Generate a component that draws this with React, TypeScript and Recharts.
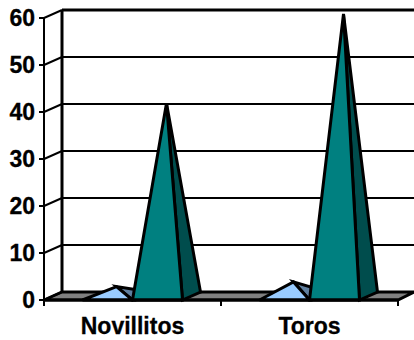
import React from 'react';
import { BarChart, Bar, XAxis, YAxis, CartesianGrid } from 'recharts';

const categories = ['Novillitos', 'Toros'];
const smallSeries = [2, 3];
const bigSeries = [41, 60];
const yTicks = [0, 10, 20, 30, 40, 50, 60];

const chartData = categories.map((name, i) => ({
  name,
  small: smallSeries[i],
  big: bigSeries[i]
}));

// how far the back of the 3D box sits from the front plane
const DEPTH_X = 18;
const DEPTH_Y = 8;

const labelStyle = { fontFamily: 'Liberation Sans', fontWeight: 700, fontSize: 23, fill: '#000', stroke: '#000', strokeWidth: 0.3 };

const Grid3D = (props: any) => {
  const { x1, x2, y1, y, height } = props;
  const back = y1 - DEPTH_Y;
  const isFloor = y1 === y + height;
  const isTop = y1 === y;
  // ticks on the category boundaries, the axis itself only ticks at the centres
  const boundaries = [0, 1, 2].map(i => x1 + (i * (x2 - x1)) / categories.length);
  return (
    <g>
      {isFloor && (
        <polygon
          points={`${x1},${y1} ${x2},${y1} ${x2 + DEPTH_X - 2},${back} ${x1 + DEPTH_X},${back}`}
          fill="#808080"
          stroke="#000"
          strokeWidth={3}
        />
      )}
      {isFloor && boundaries.map(bx => <line key={bx} x1={bx} y1={y1} x2={bx} y2={y1 + 6} stroke="#000" strokeWidth={2} />)}
      {isTop && <line x1={x1 + DEPTH_X} y1={back} x2={x1 + DEPTH_X} y2={y + height - DEPTH_Y} stroke="#000" strokeWidth={3} />}
      <line x1={x1} y1={y1} x2={x1 + DEPTH_X} y2={back} stroke="#000" strokeWidth={2} />
      {!isFloor && <line x1={x1 + DEPTH_X} y1={back} x2={x2 + DEPTH_X} y2={back} stroke="#000" strokeWidth={isTop ? 3 : 2} />}
    </g>
  );
};

const pyramid = (front: string, side: string) => (props: any) => {
  const { x, y, width, height } = props;
  const bottom = y + height;
  const right = x + width;
  const apexX = x + width / 2 + DEPTH_X / 2;
  const apexY = y - DEPTH_Y / 2;
  return (
    <g stroke="#000" strokeWidth={3} strokeLinejoin="miter">
      <polygon points={`${right},${bottom} ${right + DEPTH_X},${bottom - DEPTH_Y} ${apexX},${apexY}`} fill={side} />
      <polygon points={`${x},${bottom} ${right},${bottom} ${apexX},${apexY}`} fill={front} />
    </g>
  );
};

const App = () => {
  return (
    <div style={{ position: 'absolute', left: 0, top: 0, width: 414, height: 340, background: '#fff' }}>
      <BarChart
        width={414}
        height={340}
        data={chartData}
        margin={{ top: 18, right: 16, left: 0, bottom: 0 }}
        barCategoryGap={38.5}
        barGap={0}
      >
        <CartesianGrid vertical={false} horizontal={(p: any) => <Grid3D key={p.index} {...p} />} />
        <XAxis
          dataKey="name"
          height={40}
          interval={0}
          tick={labelStyle}
          tickSize={6}
          tickMargin={12}
          axisLine={{ stroke: '#000', strokeWidth: 3 }}
          tickLine={false}
        />
        <YAxis
          width={44}
          domain={[0, 60]}
          ticks={yTicks}
          interval={0}
          tick={labelStyle}
          tickSize={5}
          tickMargin={4}
          axisLine={{ stroke: '#000', strokeWidth: 2 }}
          tickLine={{ stroke: '#000', strokeWidth: 2 }}
        />
        <Bar dataKey="small" isAnimationActive={false} shape={pyramid('#99ccff', '#5f7f9f')} />
        <Bar dataKey="big" isAnimationActive={false} shape={pyramid('#008080', '#004d4d')} />
      </BarChart>
    </div>
  );
};

export default App;
